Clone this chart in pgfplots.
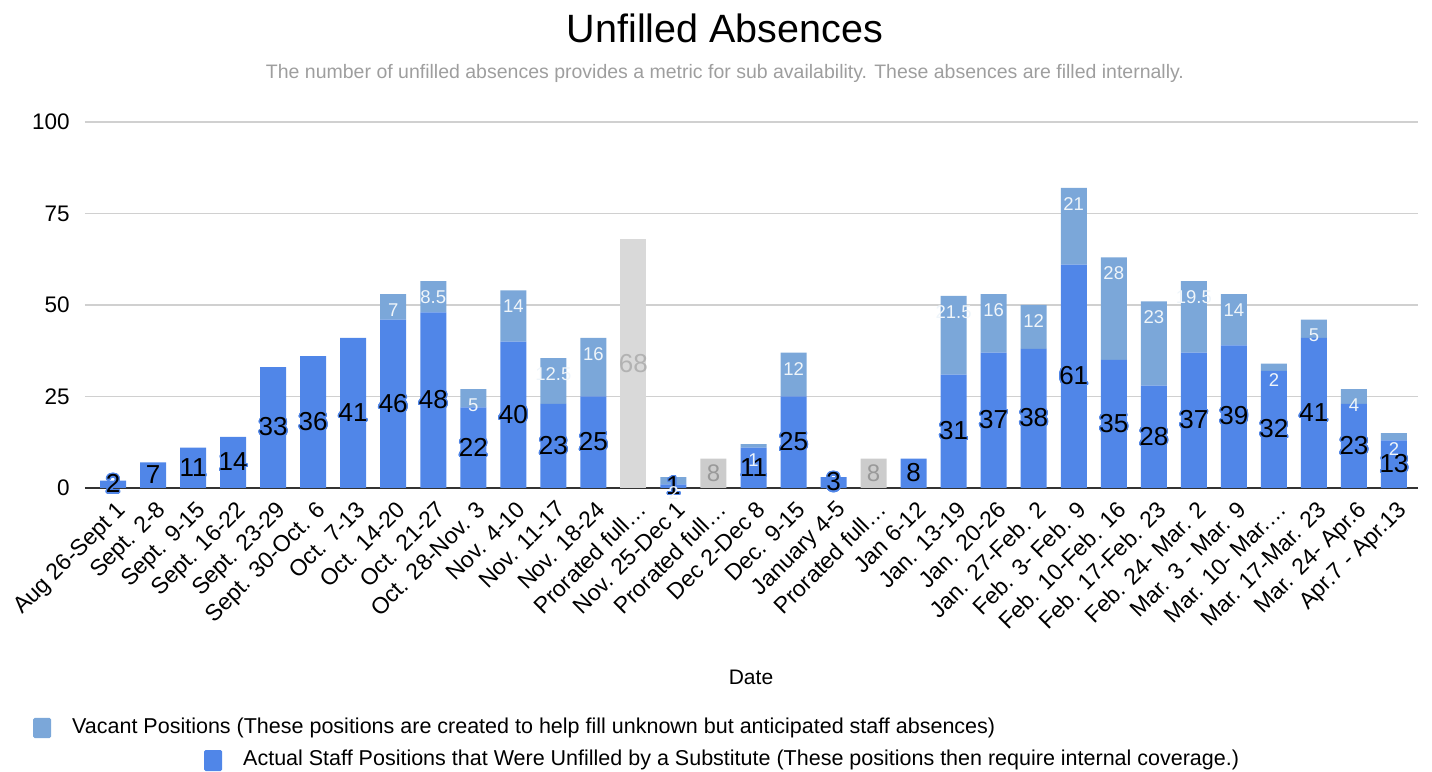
\documentclass[border=0pt]{standalone}
\usepackage{pgfplots}
\pgfplotsset{compat=1.18}
\usepackage{pgfplotstable}
\usepackage{fontspec}
\setmainfont{Liberation Sans}
\usepackage{contour}
\contourlength{1.3pt}
\contournumber{24}

\definecolor{actblue}{HTML}{5086E8}
\definecolor{vacblue}{HTML}{7BA7D9}
\definecolor{grayA}{HTML}{D9D9D9}
\definecolor{grayB}{HTML}{CCCCCC}
\definecolor{gridgray}{HTML}{D0D0D0}
\definecolor{axisgray}{HTML}{333333}
\definecolor{subgray}{HTML}{9E9E9E}

\pgfplotsset{/pgf/number format/assume math mode=true}

% x = week index, actual = unfilled by sub, vacant = vacant positions,
% gA / gB = prorated full-time (grey bars)
\pgfplotstableread{
x  actual vacant gA gB
0  2      0      0  0
1  7      0      0  0
2  11     0      0  0
3  14     0      0  0
4  33     0      0  0
5  36     0      0  0
6  41     0      0  0
7  46     7      0  0
8  48     8.5    0  0
9  22     5      0  0
10 40     14     0  0
11 23     12.5   0  0
12 25     16     0  0
13 0      0      68 0
14 1      2      0  0
15 0      0      0  8
16 11     1      0  0
17 25     12     0  0
18 3      0      0  0
19 0      0      0  8
20 8      0      0  0
21 31     21.5   0  0
22 37     16     0  0
23 38     12     0  0
24 61     21     0  0
25 35     28     0  0
26 28     23     0  0
27 37     19.5   0  0
28 39     14     0  0
29 32     2      0  0
30 41     5      0  0
31 23     4      0  0
32 13     2      0  0
}\unfilled

\pgfplotsset{
  frame/.style={at={(85pt,283pt)}, anchor=south west, scale only axis,
    width=1333pt, height=366pt, xmin=-0.7, xmax=32.6, ymin=0, ymax=100},
  skipzero/.style={nodes near coords={\pgfmathfloatifflags{\pgfplotspointmeta}{0}{}{#1}}},
}

\begin{document}
\begin{tikzpicture}
\path[use as bounding box] (0,0) rectangle (1432pt,771pt);

\begin{axis}[frame,
  ybar stacked, bar width=26pt,
  axis x line=bottom, axis y line=left,
  x axis line style={draw=axisgray, line width=1.4pt, -},
  y axis line style={draw=none},
  ytick={0,25,50,75,100},
  ymajorgrids, grid style={draw=gridgray, line width=1.1pt},
  major tick style={draw=none},
  yticklabel style={font=\fontsize{22.5}{26}\selectfont, inner sep=0pt, xshift=-13pt},
  xtick={0,...,32},
  xticklabels={{Aug 26-Sept 1},{Sept. 2-8},{Sept. 9-15},{Sept. 16-22},{Sept. 23-29},
    {Sept. 30-Oct. 6},{Oct. 7-13},{Oct. 14-20},{Oct. 21-27},{Oct. 28-Nov. 3},
    {Nov. 4-10},{Nov. 11-17},{Nov. 18-24},{Prorated full…},{Nov. 25-Dec 1},
    {Prorated full…},{Dec 2-Dec 8},{Dec. 9-15},{January 4-5},{Prorated full…},
    {Jan 6-12},{Jan. 13-19},{Jan. 20-26},{Jan. 27-Feb. 2},{Feb. 3- Feb. 9},
    {Feb. 10-Feb. 16},{Feb. 17-Feb. 23},{Feb. 24- Mar. 2},{Mar. 3 - Mar. 9},
    {Mar. 10- Mar.…},{Mar. 17-Mar. 23},{Mar. 24- Apr.6},{Apr.7 - Apr.13}},
  xticklabel style={rotate=45, anchor=north east, inner sep=1pt, yshift=-7pt,
    xshift=-4pt, font=\fontsize{23}{25}\selectfont},
]
\addplot[fill=actblue, draw=none] table[x=x, y=actual] {\unfilled};
\addplot[fill=vacblue, draw=none] table[x=x, y=vacant] {\unfilled};
\addplot[fill=grayA, draw=none] table[x=x, y=gA] {\unfilled};
\addplot[fill=grayB, draw=none] table[x=x, y=gB] {\unfilled};
\end{axis}

% value labels
\begin{axis}[frame, hide axis]
\addplot[draw=none, point meta=explicit,
  skipzero={\contour{actblue}{\pgfmathprintnumber{\pgfplotspointmeta}}},
  every node near coord/.append style={anchor=center, text=black,
    font=\fontsize{26}{28}\selectfont}]
  table[x=x, y expr=\thisrow{actual}/2, meta=actual] {\unfilled};
\addplot[draw=none, point meta=explicit,
  skipzero={\pgfmathprintnumber{\pgfplotspointmeta}},
  every node near coord/.append style={anchor=center, yshift=-16pt,
    text=white!88!vacblue, font=\fontsize{18.5}{20}\selectfont}]
  table[x=x, y expr=\thisrow{actual}+\thisrow{vacant}, meta=vacant] {\unfilled};
\addplot[draw=none, point meta=explicit,
  skipzero={\pgfmathprintnumber{\pgfplotspointmeta}},
  every node near coord/.append style={anchor=center, text=black!30,
    font=\fontsize{26}{28}\selectfont}]
  table[x=x, y expr=\thisrow{gA}/2, meta=gA] {\unfilled};
\addplot[draw=none, point meta=explicit,
  skipzero={\pgfmathprintnumber{\pgfplotspointmeta}},
  every node near coord/.append style={anchor=center, text=black!40,
    font=\fontsize{24}{28}\selectfont}]
  table[x=x, y expr=\thisrow{gB}/2, meta=gB] {\unfilled};
\end{axis}

% titles and axis title
\node[font=\fontsize{39.5}{44}\selectfont] at (725pt,743pt) {Unfilled Absences};
\node[font=\fontsize{19.5}{22}\selectfont, text=subgray] at (725pt,698pt)
  {The number of unfilled absences provides a metric for sub availability. These absences are filled internally.};
\node[font=\fontsize{21}{24}\selectfont] at (751pt,94pt) {Date};

% legend
\fill[vacblue, rounded corners=1.5pt] (33pt,33pt) rectangle (51pt,53pt);
\node[anchor=west, inner sep=0pt, font=\fontsize{21.5}{24}\selectfont] at (72pt,43pt)
  {Vacant Positions (These positions are created to help fill unknown but anticipated staff absences)};
\fill[actblue, rounded corners=1.5pt] (204pt,0pt) rectangle (222pt,21pt);
\node[anchor=west, inner sep=0pt, font=\fontsize{21.5}{24}\selectfont] at (243pt,11pt)
  {Actual Staff Positions that Were Unfilled by a Substitute (These positions then require internal coverage.)};
\end{tikzpicture}
\end{document}
